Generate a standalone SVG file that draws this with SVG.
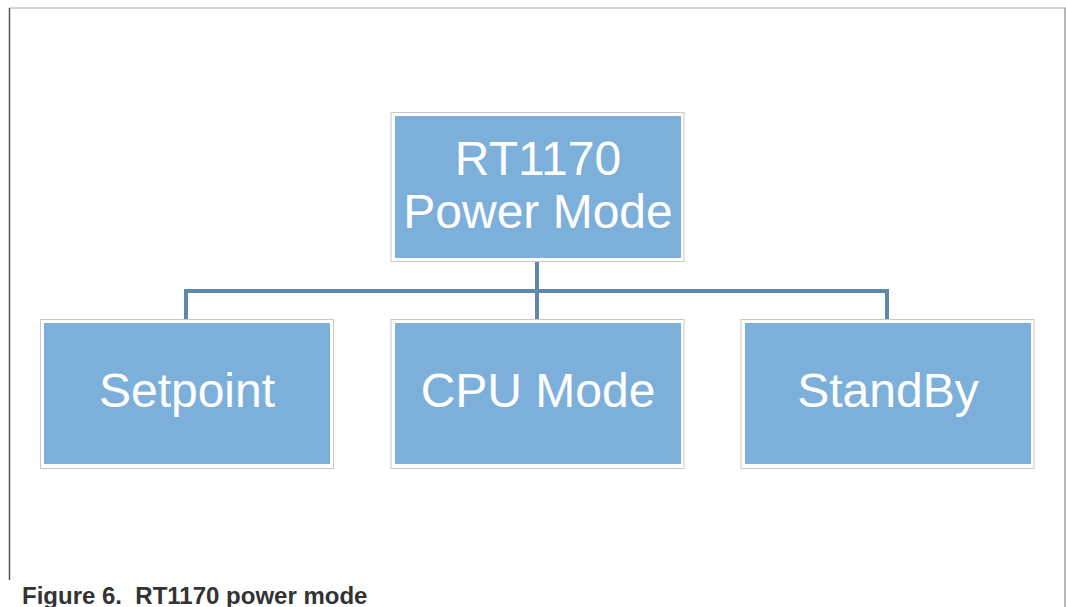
<svg xmlns="http://www.w3.org/2000/svg" width="1066" height="607" viewBox="0 0 1066 607">
<style>
.outer{fill:#ffffff;stroke:#c8c8c8;stroke-width:1}
.box{fill:#7cb0da}
.lbl{font-family:"Liberation Sans",Arial,sans-serif;font-size:48px;fill:#ffffff;text-anchor:middle}
.conn{fill:none;stroke:#5f88aa;stroke-width:4}
.cap{font-family:"Liberation Sans",Arial,sans-serif;font-size:24px;font-weight:bold;fill:#333333}
</style>
<rect x="0" y="0" width="1066" height="607" fill="#ffffff"/>
<line x1="9" y1="8" x2="1066" y2="8" stroke="#c4c4c4" stroke-width="1.5"/>
<line x1="9.5" y1="8" x2="9.5" y2="580" stroke="#555555" stroke-width="1.5"/>
<line x1="1065" y1="8" x2="1065" y2="607" stroke="#a0a0a0" stroke-width="1.5"/>
<g id="connectors">
<line class="conn" x1="537" y1="262" x2="537" y2="320"/>
<polyline class="conn" points="186,320 186,291 887,291 887,320"/>
</g>
<g id="node-root">
<rect class="outer" x="391" y="112.5" width="293" height="149"/>
<rect class="box" x="395" y="116" width="286" height="142"/>
<text class="lbl" x="538" y="175">RT1170</text>
<text class="lbl" x="538" y="228">Power Mode</text>
</g>
<g id="node-setpoint">
<rect class="outer" x="40.5" y="319.5" width="293" height="149"/>
<rect class="box" x="44" y="323" width="286" height="141"/>
<text class="lbl" x="187" y="407">Setpoint</text>
</g>
<g id="node-cpu">
<rect class="outer" x="391" y="319.5" width="293" height="149"/>
<rect class="box" x="395" y="323" width="286" height="141"/>
<text class="lbl" x="538" y="407">CPU Mode</text>
</g>
<g id="node-standby">
<rect class="outer" x="741" y="319.5" width="293" height="149"/>
<rect class="box" x="745" y="323" width="286" height="141"/>
<text class="lbl" x="888" y="407">StandBy</text>
</g>
<text class="cap" x="22" y="604">Figure 6.&#160; RT1170 power mode</text>
</svg>
